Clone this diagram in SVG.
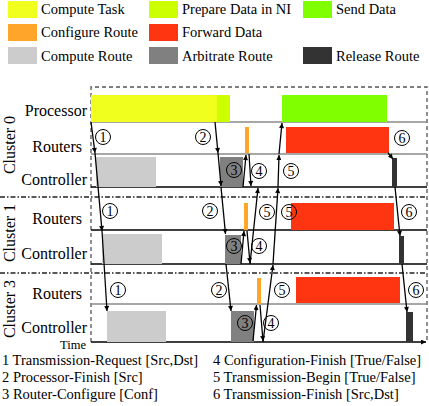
<svg xmlns="http://www.w3.org/2000/svg" width="429" height="406" viewBox="0 0 429 406" font-family="Liberation Serif, DejaVu Serif, serif">
<style>
.lg{font-size:14.5px;font-family:"Liberation Serif",serif}
.lb{font-size:16px;text-anchor:end;font-family:"Liberation Serif",serif}
.cl{font-size:16px;text-anchor:middle;font-family:"Liberation Serif",serif}
.cn circle{fill:none;stroke:#000;stroke-width:1}
.cn text{font-size:14px;text-anchor:middle;font-family:"Liberation Serif",serif}
.c{stroke:#000;stroke-width:1.3;fill:none;marker-end:url(#ah)}
.hg{stroke:#8a8a8a;stroke-width:1.5}
.hb{stroke:#000;stroke-width:1.3}
.dd{stroke:#222;stroke-width:1.5;stroke-dasharray:5,2,1.5,2}
.fr{stroke:#555;stroke-width:1.3;stroke-dasharray:4,3;fill:none}
.y{fill:#f0ff1e}.yg{fill:#ccff00}.g{fill:#80ff00}.o{fill:#ffa52a}.r{fill:#ff3511}.lgr{fill:#cccccc}.dg{fill:#808080}.bk{fill:#333333}
</style>
<defs>
<marker id="ah" viewBox="0 0 10 10" refX="10" refY="5" markerWidth="6" markerHeight="5" markerUnits="userSpaceOnUse" orient="auto"><path d="M0,0 L10,5 L0,10 z" fill="#000"/></marker>
</defs>

<g id="legend">
<rect class="y" x="8" y="1" width="29" height="17"/><text class="lg" x="41" y="14">Compute Task</text>
<rect class="yg" x="149" y="1" width="29" height="17"/><text class="lg" x="182" y="14">Prepare Data in NI</text>
<rect class="g" x="303" y="1" width="29" height="17"/><text class="lg" x="336" y="14">Send Data</text>
<rect class="o" x="8" y="24" width="29" height="17"/><text class="lg" x="41" y="37">Configure Route</text>
<rect class="r" x="149" y="24" width="29" height="17"/><text class="lg" x="182" y="37">Forward Data</text>
<rect class="lgr" x="8" y="47" width="29" height="17"/><text class="lg" x="41" y="61">Compute Route</text>
<rect class="dg" x="149" y="47" width="29" height="17"/><text class="lg" x="182" y="61">Arbitrate Route</text>
<rect class="bk" x="303" y="47" width="29" height="17"/><text class="lg" x="336" y="61">Release Route</text>
</g>

<g id="frame">
<path class="fr" d="M91,342 V87 H427 V342"/>
<line class="dd" x1="0" y1="197" x2="427" y2="197"/>
<line class="dd" x1="0" y1="273" x2="427" y2="273"/>
<line class="hg" x1="91" y1="122" x2="427" y2="122"/>
<line class="hg" x1="91" y1="154" x2="427" y2="154"/>
<line class="hb" x1="91" y1="187" x2="427" y2="187"/>
<line class="hb" x1="91" y1="230" x2="427" y2="230"/>
<line class="hb" x1="91" y1="264" x2="427" y2="264"/>
<line class="hg" x1="91" y1="304" x2="427" y2="304"/>
<line class="hb" x1="91" y1="342" x2="426" y2="342" marker-end="url(#ah)"/>
<text x="86" y="349" font-size="12.5" text-anchor="end" font-family="Liberation Serif, serif">Time</text>
</g>

<g id="labels">
<text class="cl" transform="translate(15,145) rotate(-90)">Cluster 0</text>
<text class="cl" transform="translate(15,233) rotate(-90)">Cluster 1</text>
<text class="cl" transform="translate(15,309) rotate(-90)">Cluster 3</text>
<text class="lb" x="87" y="116">Processor</text>
<text class="lb" x="82" y="152">Routers</text>
<text class="lb" x="87" y="185">Controller</text>
<text class="lb" x="82" y="224">Routers</text>
<text class="lb" x="87" y="259">Controller</text>
<text class="lb" x="82" y="299">Routers</text>
<text class="lb" x="87" y="333">Controller</text>
</g>

<g id="cluster0">
<rect class="y" x="91" y="95" width="126" height="27"/>
<rect class="yg" x="217" y="95" width="13" height="27"/>
<rect class="g" x="282" y="95" width="105" height="27"/>
<rect class="o" x="245" y="127" width="4" height="26"/>
<rect class="r" x="286" y="127" width="103" height="26"/>
<rect class="lgr" x="96" y="157" width="60" height="30"/>
<rect class="dg" x="220" y="157" width="23" height="30"/>
<rect class="bk" x="392" y="158" width="5" height="29"/>
</g>

<g id="cluster1">
<rect class="o" x="244" y="203" width="4" height="27"/>
<rect class="r" x="291" y="203" width="103" height="27"/>
<rect class="lgr" x="102" y="234" width="60" height="30"/>
<rect class="dg" x="225" y="235" width="16" height="29"/>
<rect class="bk" x="399" y="236" width="5" height="28"/>
</g>

<g id="cluster3">
<rect class="o" x="257" y="278" width="4" height="26"/>
<rect class="r" x="296" y="277" width="104" height="26"/>
<rect class="lgr" x="107" y="311" width="59" height="31"/>
<rect class="dg" x="231" y="311" width="23" height="31"/>
<rect class="bk" x="406" y="312" width="7" height="30"/>
</g>

<g id="connectors">
<line class="c" x1="91" y1="122" x2="95" y2="153"/>
<line class="c" x1="95" y1="153" x2="102" y2="231"/>
<line class="c" x1="102" y1="231" x2="107" y2="311"/>
<line class="c" x1="215" y1="122" x2="218" y2="153"/>
<line class="c" x1="218" y1="153" x2="221" y2="186"/>
<line class="c" x1="221" y1="187" x2="225.5" y2="234"/>
<line class="c" x1="226" y1="264" x2="231" y2="311"/>
<line class="c" x1="243" y1="187" x2="246" y2="155"/>
<line class="c" x1="249" y1="154" x2="251" y2="186"/>
<line class="c" x1="241" y1="264" x2="244" y2="231"/>
<line class="c" x1="247" y1="231" x2="250" y2="263"/>
<line class="c" x1="250" y1="264" x2="258" y2="188"/>
<line class="c" x1="253" y1="341" x2="256.5" y2="305"/>
<line class="c" x1="260" y1="305" x2="263" y2="341"/>
<line class="c" x1="263" y1="342" x2="273" y2="265"/>
<line class="c" x1="273" y1="264" x2="278" y2="188"/>
<line class="c" x1="278" y1="187" x2="279" y2="155"/>
<line class="c" x1="279" y1="154" x2="282" y2="123"/>
<line class="c" x1="388" y1="153" x2="393" y2="159"/>
<line class="c" x1="395" y1="187" x2="400" y2="236"/>
<line class="c" x1="402" y1="264" x2="407" y2="312"/>
</g>

<g id="marks">
<g class="cn"><circle cx="103" cy="137" r="7.5"/><text x="103" y="142">1</text></g>
<g class="cn"><circle cx="203" cy="137" r="7.5"/><text x="203" y="142">2</text></g>
<g class="cn"><circle cx="234" cy="170" r="7.5"/><text x="234" y="175">3</text></g>
<g class="cn"><circle cx="259" cy="171" r="7.5"/><text x="259" y="176">4</text></g>
<g class="cn"><circle cx="291" cy="171" r="7.5"/><text x="291" y="176">5</text></g>
<g class="cn"><circle cx="402" cy="138" r="7.5"/><text x="402" y="143">6</text></g>
<g class="cn"><circle cx="110" cy="211" r="7.5"/><text x="110" y="216">1</text></g>
<g class="cn"><circle cx="210" cy="211" r="7.5"/><text x="210" y="216">2</text></g>
<g class="cn"><circle cx="267" cy="212" r="7.5"/><text x="267" y="217">5</text></g>
<g class="cn"><circle cx="289" cy="212" r="7.5"/><text x="289" y="217">5</text></g>
<g class="cn"><circle cx="409" cy="212" r="7.5"/><text x="409" y="217">6</text></g>
<g class="cn"><circle cx="234" cy="246" r="7.5"/><text x="234" y="251">3</text></g>
<g class="cn"><circle cx="259" cy="246" r="7.5"/><text x="259" y="251">4</text></g>
<g class="cn"><circle cx="118" cy="290" r="7.5"/><text x="118" y="295">1</text></g>
<g class="cn"><circle cx="219" cy="290" r="7.5"/><text x="219" y="295">2</text></g>
<g class="cn"><circle cx="282" cy="290" r="7.5"/><text x="282" y="295">5</text></g>
<g class="cn"><circle cx="416" cy="290" r="7.5"/><text x="416" y="295">6</text></g>
<g class="cn"><circle cx="245" cy="323" r="7.5"/><text x="245" y="328">3</text></g>
<g class="cn"><circle cx="271" cy="323" r="7.5"/><text x="271" y="328">4</text></g>
</g>

<g id="notes">
<text class="lg" x="2" y="365">1 Transmission-Request [Src,Dst]</text>
<text class="lg" x="2" y="382">2 Processor-Finish [Src]</text>
<text class="lg" x="2" y="399">3 Router-Configure [Conf]</text>
<text class="lg" x="213" y="365">4 Configuration-Finish [True/False]</text>
<text class="lg" x="213" y="382">5 Transmission-Begin [True/False]</text>
<text class="lg" x="213" y="399">6 Transmission-Finish [Src,Dst]</text>
</g>
</svg>
